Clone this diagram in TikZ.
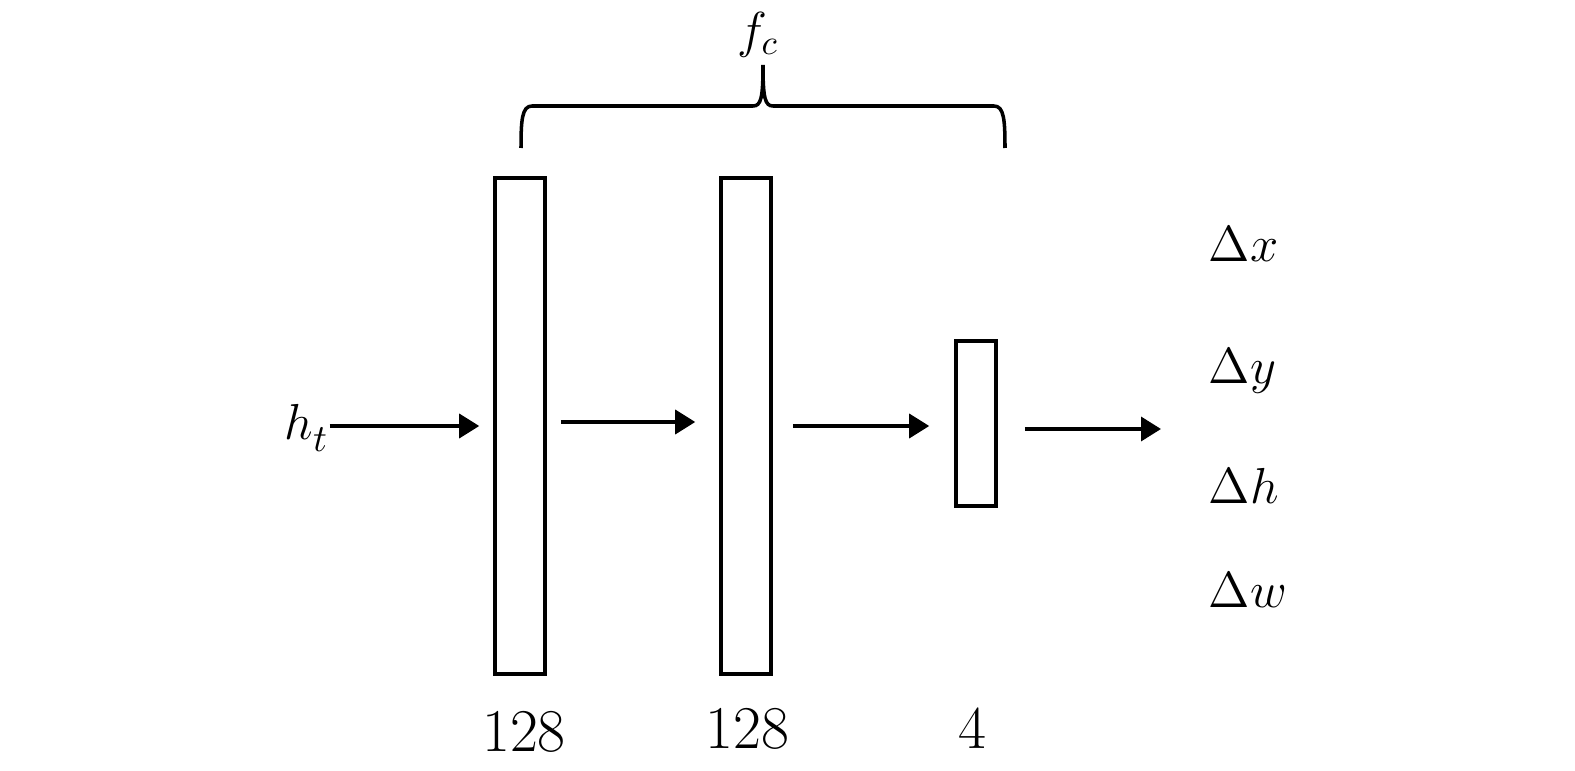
\documentclass[tikz,border=0pt]{standalone}
\usepackage{amsmath}
\usepackage{amssymb}
\usepackage{tikz}
\usetikzlibrary{arrows.meta}
\usetikzlibrary{positioning, calc}

\tikzset{
  layer/.style={draw, line width=1pt, inner sep=0pt, minimum width=0.5cm},
  arr/.style={line width=1pt, -{Triangle[length=0.2cm, width=0.24cm]}},
  dimlbl/.style={anchor=base, inner sep=0pt, font=\fontsize{16.5}{19}\selectfont},
  outlbl/.style={anchor=base west, inner sep=0pt, font=\fontsize{14}{16}\selectfont},
}

\begin{document}
\begin{tikzpicture}
            \useasboundingbox (0,0) rectangle (15.75,7.70);

            % Couches
            \node[layer, minimum height=4.96cm] (l1) at (5.20,3.44) {};
            \node[layer, minimum height=4.96cm] (l2) at (7.46,3.44) {};
            \node[layer, minimum width=0.40cm, minimum height=1.65cm] (l3) at (9.76,3.465) {};

            % Tailles
            \node[dimlbl] (n1) at (5.24,0.183) {$128$};
            \node[dimlbl] (n2) at (7.475,0.217) {$128$};
            \node[dimlbl] (n3) at (9.72,0.22) {$4$};

            % Entree
            \node[anchor=base west, inner sep=0pt, font=\fontsize{15}{18}\selectfont] (ht) at (2.84,3.307) {$h_{\lower1.2pt\hbox{$\scriptstyle t$}}$};

            % Sorties
            \node[outlbl] (dx) at (12.08,5.08) {$\Delta x$};
            \node[outlbl] (dy) at (12.08,3.87) {$\Delta y$};
            \node[outlbl] (dh) at (12.08,2.67) {$\Delta h$};
            \node[outlbl] (dw) at (12.08,1.63) {$\Delta w$};

            % Fleches
            \coordinate (out) at (11.61,3.41);
            \draw[arr] (ht.east |- l1.west) -- ([xshift=-0.14cm]l1.west);
            \draw[arr] ([xshift=0.14cm, yshift=0.04cm]l1.east) -- ([xshift=-0.24cm, yshift=0.04cm]l2.west);
            \draw[arr] ([xshift=0.20cm]l2.east) -- ([xshift=-0.25cm]l3.west |- l2.east);
            \draw[arr] ([xshift=0.27cm]l3.east |- out) -- (out);

            % Accolade
            \draw[line width=1pt] (5.21,6.22) .. controls (5.21,6.50) and (5.22,6.64) .. (5.32,6.64)
                -- (7.53,6.64) .. controls (7.61,6.64) and (7.63,6.72) .. (7.63,7.05)
                .. controls (7.63,6.72) and (7.65,6.64) .. (7.73,6.64)
                -- (9.94,6.64) .. controls (10.04,6.64) and (10.05,6.50) .. (10.05,6.22);
            \node[anchor=base, inner sep=0pt, font=\fontsize{14}{17}\selectfont] (fc) at (7.58,7.23) {$f_c$};
        \end{tikzpicture}
\end{document}
